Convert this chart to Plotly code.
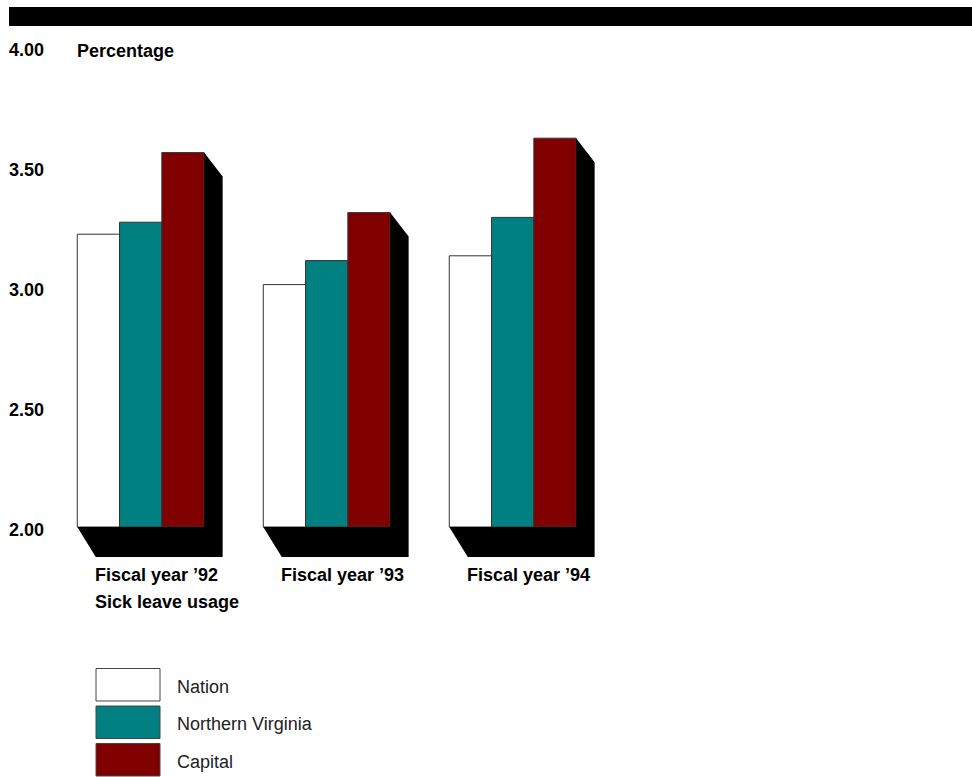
import plotly.graph_objects as go

# ---- data ----
categories = ["Fiscal year \u201992", "Fiscal year \u201993", "Fiscal year \u201994"]
series_names = ["Nation", "Northern Virginia", "Capital"]
nation = [3.22, 3.01, 3.13]
northern_virginia = [3.27, 3.11, 3.29]
capital = [3.56, 3.31, 3.62]
tick_vals = [2.0, 2.5, 3.0, 3.5, 4.0]
tick_text = ["2.00", "2.50", "3.00", "3.50", "4.00"]
axis_title = "Percentage"
subtitle = "Sick leave usage"
colors = ["#ffffff", "#008080", "#800000"]

BASE = 2.0
FONT = "Liberation Sans, Arial, Helvetica, sans-serif"

# ---- layout geometry (pixels) ----
W, H = 972, 777
ML, MR, MT, MB = 60, 0, 30, 212
PW, PH = W - ML - MR, H - MT - MB
PX_PER_X = 186.0      # pixels per group
PX_PER_Y = 240.0      # pixels per unit value
x_min = -(140.7 - ML) / PX_PER_X
x_max = x_min + PW / PX_PER_X
y_max = 4.0 + (47 - MT) / PX_PER_Y
y_min = y_max - PH / PX_PER_Y

def px2paper_x(px):
    return (px - ML) / PW

def px2paper_y(py):
    return (MT + PH - py) / PH

bargap = 0.318
half_group = (1 - bargap) / 2
dx = 18.5 / PX_PER_X
dy_top = 24 / PX_PER_Y
dy_floor = 30 / PX_PER_Y

fig = go.Figure()

# shadows (3-D extrusion) computed from data
xs = list(range(len(categories)))
for i, top in zip(xs, capital):
    L, R = i - half_group, i + half_group
    fig.add_trace(go.Scatter(
        x=[L, L + dx, R + dx, R + dx, R, R, L],
        y=[BASE, BASE - dy_floor, BASE - dy_floor, top - dy_top, top, BASE, BASE],
        fill="toself", fillcolor="black", mode="lines",
        line=dict(color="black", width=0), hoverinfo="skip", showlegend=False,
    ))

for name, vals, col in zip(series_names, [nation, northern_virginia, capital], colors):
    fig.add_trace(go.Bar(
        x=xs, y=[v - BASE for v in vals], base=BASE, name=name,
        marker=dict(color=col, line=dict(color="#333333", width=1)),
        customdata=vals, hovertemplate="%{customdata:.2f}<extra>" + name + "</extra>",
        showlegend=False,
    ))

fig.update_layout(
    width=W, height=H, margin=dict(l=ML, r=MR, t=MT, b=MB),
    paper_bgcolor="white", plot_bgcolor="white",
    barmode="group", bargap=bargap, bargroupgap=0,
    font=dict(family=FONT, color="black"),
    xaxis=dict(range=[x_min, x_max], showgrid=False, zeroline=False,
               showticklabels=False, showline=False, fixedrange=True),
    yaxis=dict(range=[y_min, y_max], tickvals=tick_vals, ticktext=tick_text,
               showgrid=False, zeroline=False, showline=False, ticks="",
               tickfont=dict(family=FONT, size=18, color="black", weight="bold"),
               ticklabelstandoff=15, ticklabelshift=3, fixedrange=True),
)

shapes = []
# header bar
shapes.append(dict(type="rect", xref="paper", yref="paper",
                   x0=px2paper_x(9), x1=px2paper_x(W), y0=px2paper_y(26), y1=px2paper_y(7),
                   fillcolor="black", line=dict(width=0), layer="above"))

annotations = []
annotations.append(dict(text=axis_title, xref="paper", yref="paper",
                        x=px2paper_x(75), y=px2paper_y(51), xanchor="left", yanchor="middle",
                        showarrow=False, font=dict(family=FONT, size=18, color="black", weight="bold")))

label_off = 16.2 / PX_PER_X
for i, cat in zip(xs, categories):
    annotations.append(dict(text=cat, xref="x", yref="paper",
                            x=i + label_off, y=px2paper_y(575), xanchor="center", yanchor="middle",
                            showarrow=False, font=dict(family=FONT, size=18, color="black", weight="bold")))
annotations.append(dict(text=subtitle, xref="paper", yref="paper",
                        x=px2paper_x(93), y=px2paper_y(602), xanchor="left", yanchor="middle",
                        showarrow=False, font=dict(family=FONT, size=18, color="black", weight="bold")))

# legend (boxes + labels)
leg_top = 668.5
leg_pitch = 37.5
for k, (name, col) in enumerate(zip(series_names, colors)):
    y0 = leg_top + k * leg_pitch
    shapes.append(dict(type="rect", xref="paper", yref="paper",
                       x0=px2paper_x(96), x1=px2paper_x(160),
                       y0=px2paper_y(y0 + 32.5), y1=px2paper_y(y0),
                       fillcolor=col, line=dict(color="#444444", width=1)))
    annotations.append(dict(text=name, xref="paper", yref="paper",
                            x=px2paper_x(175), y=px2paper_y(y0 + 18), xanchor="left", yanchor="middle",
                            showarrow=False, font=dict(family=FONT, size=18, color="#222222")))

fig.update_layout(shapes=shapes, annotations=annotations)
fig.write_html("out.html")
